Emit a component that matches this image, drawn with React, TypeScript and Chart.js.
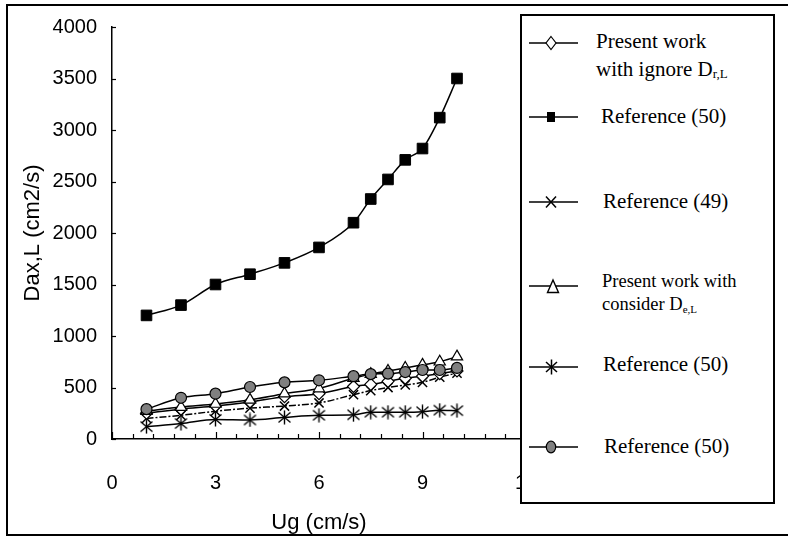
import React, { useEffect, useRef } from "react";
import { Chart, registerables } from "chart.js";

Chart.register(...registerables);

// ---- data ----
const ugValues = [1, 2, 3, 4, 5, 6, 7, 7.5, 8, 8.5, 9, 9.5, 10];
const presentIgnore = [250, 290, 320, 360, 410, 440, 510, 530, 560, 590, 610, 635, 660];
const reference50Square = [1200, 1300, 1500, 1600, 1710, 1860, 2100, 2330, 2520, 2710, 2820, 3120, 3500];
const reference49 = [200, 230, 270, 300, 320, 350, 430, 470, 500, 525, 550, 600, 640];
const presentConsider = [270, 310, 340, 380, 440, 490, 590, 630, 660, 690, 720, 750, 800];
const reference50Star = [120, 150, 190, 185, 210, 230, 235, 260, 260, 260, 265, 280, 275];
const reference50Circle = [290, 400, 440, 505, 550, 570, 610, 630, 635, 650, 670, 670, 690];

const xMin = 0;
const xMax = 12;
const xStep = 3;
const xMinorStep = 0.6;
const yMin = 0;
const yMax = 4000;
const yStep = 500;

const xTitle = "Ug (cm/s)";
const yTitle = "Dax,L (cm2/s)";

const SANS = "'Liberation Sans', Arial, sans-serif";
const SERIF = "'Liberation Serif', 'Times New Roman', serif";

function pts(values: number[]) {
  return ugValues.map((x, i) => ({ x, y: values[i] }));
}

function makeAsterisk(): HTMLCanvasElement {
  const c = document.createElement("canvas");
  c.width = 15;
  c.height = 15;
  const g = c.getContext("2d")!;
  g.strokeStyle = "#000";
  g.lineWidth = 1.4;
  g.beginPath();
  g.moveTo(7.5, 0.5);
  g.lineTo(7.5, 14.5);
  g.moveTo(1.5, 2.5);
  g.lineTo(13.5, 12.5);
  g.moveTo(13.5, 2.5);
  g.lineTo(1.5, 12.5);
  g.stroke();
  return c;
}

const axisTicks = {
  id: "axisTicks",
  afterDraw(chart: any) {
    const { ctx, chartArea, scales } = chart;
    const xs = scales.x;
    const ys = scales.y;
    ctx.save();
    ctx.strokeStyle = "#000";
    ctx.lineWidth = 1.2;
    for (let v = yMin; v <= yMax + 1e-6; v += yStep) {
      const py = Math.round(ys.getPixelForValue(v)) + 0.5;
      ctx.beginPath();
      ctx.moveTo(chartArea.left, py);
      ctx.lineTo(chartArea.left + 4, py);
      ctx.stroke();
    }
    const n = Math.round((xMax - xMin) / xMinorStep);
    for (let i = 0; i <= n; i++) {
      const v = xMin + i * xMinorStep;
      const px = Math.round(xs.getPixelForValue(v)) + 0.5;
      const len = i % 5 === 0 ? 7 : 5;
      ctx.beginPath();
      ctx.moveTo(px, chartArea.bottom);
      ctx.lineTo(px, chartArea.bottom - len);
      ctx.stroke();
    }
    ctx.restore();
  },
};

export default function App() {
  const ref = useRef<HTMLCanvasElement>(null);

  useEffect(() => {
    const canvas = ref.current!;
    const common = {
      borderColor: "#000",
      borderWidth: 1.5,
      pointBorderColor: "#000",
      cubicInterpolationMode: "monotone" as const,
      fill: false,
    };
    const chart = new Chart(canvas, {
      type: "line",
      data: {
        datasets: [
          {
            ...common,
            label: "Reference (50) circle",
            data: pts(reference50Circle),
            pointStyle: "circle",
            pointRadius: 5.5,
            pointBackgroundColor: "#808080",
            pointBorderWidth: 1.2,
          },
          {
            ...common,
            label: "Present work with consider De,L",
            data: pts(presentConsider),
            pointStyle: "triangle",
            pointRadius: 6.5,
            pointBackgroundColor: "#fff",
            pointBorderWidth: 1.2,
          },
          {
            ...common,
            label: "Present work with ignore Dr,L",
            data: pts(presentIgnore),
            pointStyle: "rectRot",
            pointRadius: 6,
            pointBackgroundColor: "#fff",
            pointBorderWidth: 1.2,
          },
          {
            ...common,
            label: "Reference (49)",
            data: pts(reference49),
            pointStyle: "crossRot",
            pointRadius: 6.5,
            pointBorderWidth: 1.5,
            borderDash: [7, 2, 2, 2],
          },
          {
            ...common,
            label: "Reference (50) star",
            data: pts(reference50Star),
            pointStyle: makeAsterisk(),
            pointRadius: 7,
          },
          {
            ...common,
            label: "Reference (50) square",
            data: pts(reference50Square),
            pointStyle: "rect",
            pointRadius: 7.5,
            pointBackgroundColor: "#000",
            pointBorderWidth: 1,
          },
        ],
      },
      options: {
        animation: false,
        responsive: false,
        devicePixelRatio: 1,
        layout: { padding: { left: 0, top: 27, right: 262, bottom: 0 } },
        plugins: {
          legend: { display: false },
          tooltip: { enabled: false },
        },
        scales: {
          x: {
            type: "linear",
            min: xMin,
            max: xMax,
            grid: { display: false, drawTicks: false },
            border: { display: true, color: "#000", width: 1.5 },
            ticks: {
              stepSize: xStep,
              color: "#000",
              font: { family: SANS, size: 20 },
              padding: 32,
              maxRotation: 0,
              autoSkip: false,
              callback: (v: any) => String(v),
            },
            title: {
              display: true,
              text: xTitle,
              color: "#000",
              font: { family: SANS, size: 22 },
              padding: { top: 0, bottom: 9 },
            },
            afterFit: (s: any) => {
              s.height = 106;
            },
          },
          y: {
            min: yMin,
            max: yMax,
            grid: { display: false, drawTicks: false },
            border: { display: true, color: "#000", width: 1.5 },
            ticks: {
              stepSize: yStep,
              color: "#000",
              font: { family: SANS, size: 20 },
              padding: 15,
              callback: (v: any) => String(v),
            },
            title: {
              display: true,
              text: yTitle,
              color: "#000",
              font: { family: SANS, size: 22 },
              padding: { top: 20, bottom: 0 },
            },
            afterFit: (s: any) => {
              s.width = 112;
            },
          },
        },
      },
      plugins: [axisTicks],
    });
    return () => chart.destroy();
  }, []);

  const textBase: React.CSSProperties = {
    position: "absolute",
    fontFamily: SERIF,
    fontSize: 21,
    lineHeight: "28px",
    color: "#000",
    whiteSpace: "nowrap",
  };
  const sub: React.CSSProperties = { fontSize: 13, verticalAlign: "-2px", lineHeight: 0 };
  const icon = (top: number, children: React.ReactNode) => (
    <svg
      width={54}
      height={24}
      style={{ position: "absolute", left: 527, top: top - 12 }}
    >
      <line x1={2} y1={12} x2={51} y2={12} stroke="#000" strokeWidth={1.5} />
      {children}
    </svg>
  );

  return (
    <div
      style={{
        position: "absolute",
        left: 0,
        top: 0,
        width: 788,
        height: 545,
        background: "#fff",
        overflow: "hidden",
      }}
    >
      <canvas
        ref={ref}
        width={788}
        height={545}
        style={{ position: "absolute", left: 0, top: 0, width: 788, height: 545 }}
      />
      {/* outer frame */}
      <div
        style={{
          position: "absolute",
          left: 6,
          top: 4,
          width: 786,
          height: 532,
          boxSizing: "border-box",
          border: "2px solid #000",
        }}
      />
      {/* legend box */}
      <div
        style={{
          position: "absolute",
          left: 520,
          top: 14,
          width: 255,
          height: 490,
          boxSizing: "border-box",
          border: "2px solid #000",
          background: "#fff",
        }}
      />
      {icon(
        43,
        <polygon points="24,5.5 29,12 24,18.5 19,12" fill="#fff" stroke="#000" strokeWidth={1.2} />
      )}
      {icon(117, <rect x={20} y={7} width={8} height={10} fill="#000" />)}
      {icon(
        202,
        <g stroke="#000" strokeWidth={1.5}>
          <line x1={19} y1={6.5} x2={29} y2={17.5} />
          <line x1={29} y1={6.5} x2={19} y2={17.5} />
        </g>
      )}
      {icon(
        286,
        <polygon points="26,6 31.5,18.5 20.5,18.5" fill="#fff" stroke="#000" strokeWidth={1.4} />
      )}
      {icon(
        367,
        <g stroke="#000" strokeWidth={1.5}>
          <line x1={24.5} y1={4.5} x2={24.5} y2={19.5} />
          <line x1={19} y1={7} x2={30} y2={17} />
          <line x1={30} y1={7} x2={19} y2={17} />
        </g>
      )}
      {icon(
        447,
        <ellipse cx={24} cy={12} rx={4.7} ry={5.8} fill="#808080" stroke="#000" strokeWidth={1.2} />
      )}

      <div style={{ ...textBase, left: 596, top: 27 }}>
        Present work
        <br />
        with ignore D<span style={sub}>r,L</span>
      </div>
      <div style={{ ...textBase, left: 601, top: 102 }}>Reference (50)</div>
      <div style={{ ...textBase, left: 603, top: 187 }}>Reference (49)</div>
      <div style={{ ...textBase, left: 602, top: 270, fontSize: 18.5, lineHeight: "23.3px" }}>
        Present work with
        <br />
        consider D<span style={{ fontSize: 11, verticalAlign: "-3px", lineHeight: 0 }}>e,L</span>
      </div>
      <div style={{ ...textBase, left: 603, top: 350 }}>Reference (50)</div>
      <div style={{ ...textBase, left: 604, top: 432 }}>Reference (50)</div>
    </div>
  );
}
